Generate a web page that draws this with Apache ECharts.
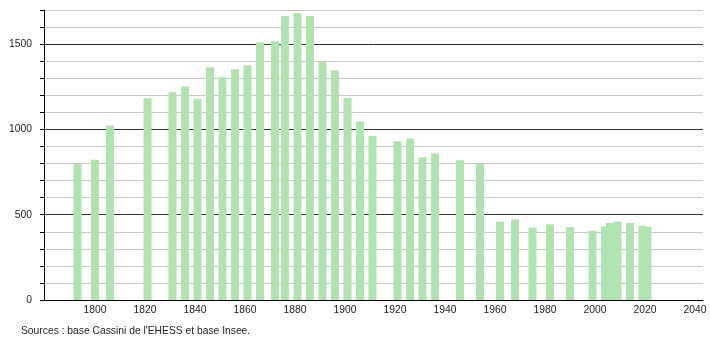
<!DOCTYPE html>
<html>
<head>
<meta charset="utf-8">
<script src="https://cdn.jsdelivr.net/npm/echarts@6/dist/echarts.min.js"></script>
<style>html,body{margin:0;padding:0;background:#fff}#c{width:710px;height:340px}</style>
</head>
<body>
<div id="c"></div>
<script>
const years = [1793,1800,1806,1821,1831,1836,1841,1846,1851,1856,1861,1866,1872,1876,1881,1886,1891,1896,1901,1906,1911,1921,1926,1931,1936,1946,1954,1962,1968,1975,1982,1990,1999,2004,2006,2009,2014,2019,2021];
const population = [798,822,1023,1182,1218,1251,1178,1365,1306,1353,1376,1510,1517,1665,1682,1665,1400,1347,1184,1047,961,931,945,837,859,819,799,459,472,424,443,427,406,431,451,460,451,435,429];
const xTickLabels = [1800,1820,1840,1860,1880,1900,1920,1940,1960,1980,2000,2020,2040];
const yTickLabels = [0,500,1000,1500];
const sourceText = "Sources : base Cassini de l'EHESS et base Insee.";

const chart = echarts.init(document.getElementById('c'), null, {renderer:'canvas'});
const font = '"Liberation Sans", Arial, sans-serif';
chart.setOption({
  animation:false,
  backgroundColor:'#fff',
  title:{text:sourceText,left:21,top:326,padding:0,textStyle:{fontSize:10.3,fontWeight:'normal',color:'#222',fontFamily:font}},
  grid:{left:44,right:7,top:10,bottom:40,containLabel:false},
  xAxis:{type:'value',min:1779.6,max:2043.2,
    axisLine:{show:true,lineStyle:{color:'#000',width:1}},
    axisTick:{show:false},
    splitLine:{show:false},
    axisLabel:{customValues:xTickLabels,color:'#222',fontSize:10.3,fontFamily:font,margin:5,formatter:v=>String(v)}
  },
  yAxis:{type:'value',min:0,max:1700,interval:100,
    axisLine:{show:true,lineStyle:{color:'#000',width:1}},
    axisTick:{show:true,length:4,lineStyle:{color:'#000'}},
    splitLine:{show:true,lineStyle:{color:['#333','#c8c8c8','#c8c8c8','#c8c8c8','#c8c8c8'],width:1}},
    axisLabel:{color:'#222',fontSize:10.3,fontFamily:font,margin:12,formatter:v=>yTickLabels.includes(v)?String(v):''}
  },
  series:[{type:'bar',barWidth:8,data:years.map((y,i)=>[y,population[i]]),itemStyle:{color:'#b0e3b0'},z:3}]
});
</script>
</body>
</html>
